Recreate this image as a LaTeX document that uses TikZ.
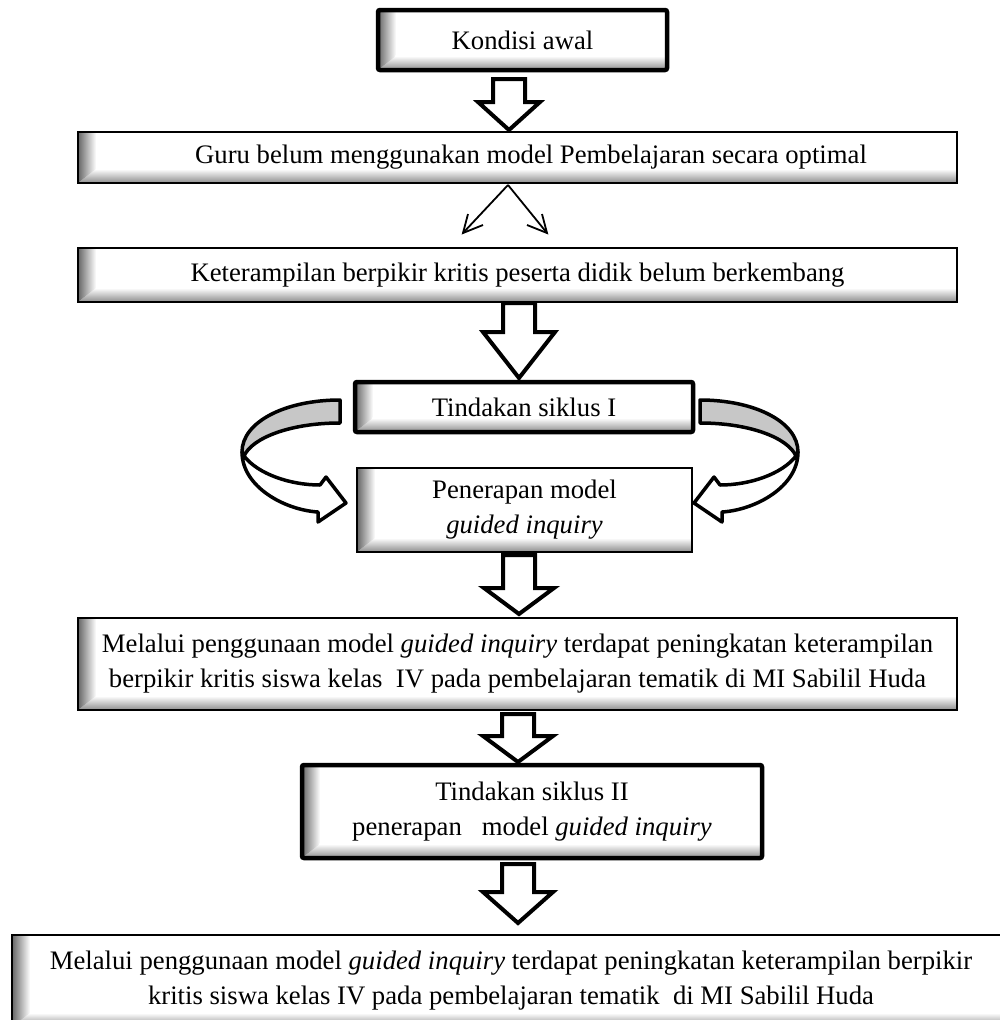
\documentclass[tikz,border=0pt]{standalone}
\usepackage{fontspec}
\setmainfont{Liberation Serif}
\usetikzlibrary{calc,arrows.meta}
\newcommand\blockarrow[5]{% x, top, headstart, tip, head half width
  \path[hollow] (#1-16,#2) -- (#1+16,#2) -- (#1+16,#3) -- (#1+#5,#3) -- (#1,#4) -- (#1-#5,#3) -- (#1-16,#3) -- cycle;}
\newcommand\curvedarrow{%
  \path[ribbon, fill=black!22] (340,400) -- (340,423) .. controls (290,423) and (252,438) .. (244,456) -- (242,452) .. controls (242,422) and (285,400) .. (340,400) -- cycle;
  \path[ribbon, fill=white] (242,452) .. controls (242,487) and (285,510) .. (318,512) -- (318,522) -- (346,503) -- (326,477) -- (320,485) .. controls (290,485) and (258,474) .. (244,456) -- cycle;}
\begin{document}
\begin{tikzpicture}[x=1pt,y=-1pt,
  sh/.style={fill=white, path picture={
    \coordinate (SW) at (path picture bounding box.south west);
    \coordinate (NE) at (path picture bounding box.north east);
    \shade[top color=white, bottom color=black!45]
      (SW) -- (SW -| NE) -- ($(SW -| NE)+(0pt,14pt)$) -- ($(SW)+(18pt,14pt)$) -- cycle;
    \shade[left color=black!60, right color=white]
      (SW) -- ($(SW)+(18pt,14pt)$) -- ($(SW |- NE)+(18pt,0pt)$) -- (SW |- NE) -- cycle;
  }},
  box/.style={draw, line width=1.3pt, sh, inner sep=0pt, outer sep=0pt, align=center,
    font=\fontsize{26.7}{35}\selectfont},
  thickbox/.style={box, line width=4.5pt, rounded corners=2pt},
  hollow/.style={draw, fill=white, line width=4pt, line join=miter},
  ribbon/.style={draw, line width=3.5pt, line join=round},
  thinarr/.style={line width=1.8pt, line join=miter},
]
\clip (0,0) rectangle (1000,1020);
\fill[white] (0,0) rectangle (1000,1020);

\node[thickbox, minimum width=289pt, minimum height=60pt] (b1) at (522.5,40) {Kondisi awal};
\node[box, minimum width=879pt, minimum height=51pt] (b2) at (517.5,157.5) {\hspace*{27pt}Guru belum menggunakan model Pembelajaran secara optimal};
\node[box, minimum width=879pt, minimum height=54pt] (b3) at (517.5,275) {Keterampilan berpikir kritis peserta didik belum berkembang};
\node[thickbox, minimum width=338pt, minimum height=50pt] (b4) at (524,407) {Tindakan siklus I};
\node[box, minimum width=335pt, minimum height=84pt] (b5) at (524.5,510) {Penerapan model\\\textit{guided inquiry}};
\node[box, minimum width=879pt, minimum height=92pt] (b6) at (517.5,664) {Melalui penggunaan model \textit{guided inquiry} terdapat peningkatan keterampilan\\berpikir kritis siswa kelas\ \ IV pada pembelajaran tematik di MI Sabilil Huda};
\node[thickbox, minimum width=460pt, minimum height=93pt] (b7) at (532,811.5) {Tindakan siklus II\\penerapan\ \ \ model \textit{guided inquiry}};
\node[box, minimum width=998pt, minimum height=92pt] (b8) at (511,981) {Melalui penggunaan model \textit{guided inquiry} terdapat peningkatan keterampilan berpikir\\kritis siswa kelas IV pada pembelajaran tematik\ \ di MI Sabilil Huda};

% hollow block arrows
\blockarrow{509}{79}{102}{130}{31}
\blockarrow{519}{303}{332}{378}{36}
\blockarrow{519}{555}{588}{614}{35}
\blockarrow{518}{714}{736}{762}{35}
\blockarrow{518}{864}{892}{923}{35}

% thin fork arrows with open barbs
\coordinate (fork) at (508,185);
\coordinate (fl) at (463,233);
\coordinate (fr) at (547,233);
\draw[thinarr] (fork) -- (fl);
\draw[thinarr] (fork) -- (fr);
\draw[thinarr] ($(fl)+(20,-8)$) -- (fl) -- ($(fl)+(5,-19)$);
\draw[thinarr] ($(fr)+(-20,-8)$) -- (fr) -- ($(fr)+(-5,-19)$);

% curved ribbon arrows
\curvedarrow
\begin{scope}[xshift=1040pt, xscale=-1]
\curvedarrow
\end{scope}
\end{tikzpicture}
\end{document}
